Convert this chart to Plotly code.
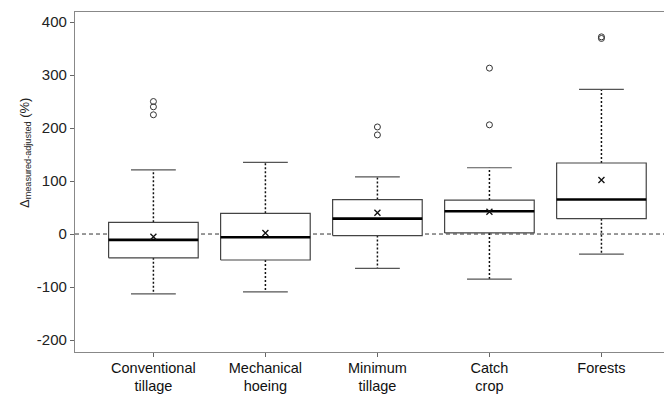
import plotly.graph_objects as go

categories = ["Conventional<br>tillage", "Mechanical<br>hoeing", "Minimum<br>tillage", "Catch<br>crop", "Forests"]
q1 = [-45, -49, -3, 2, 29]
median = [-11, -6, 29, 43, 65]
q3 = [22, 39, 65, 64, 134]
lower = [-113, -109, -65, -85, -38]
upper = [121, 135, 108, 125, 273]
mean = [-5, 2, 40, 42, 102]
outliers = [[250, 240, 225], [], [202, 187], [313, 206], [372, 369]]
y_ticks = [-200, -100, 0, 100, 200, 300, 400]
y_ticktext = ["-200", "-100", "0", "100", "200", "300", "400"]

BW = 0.4   # box half-width (category units)
CW = 0.2   # cap half-width

pos = list(range(len(categories)))

bx, by, mx, my, wx, wy, cx, cy = [], [], [], [], [], [], [], []
ox, oy = [], []
for i in pos:
    bx += [i - BW, i + BW, i + BW, i - BW, i - BW, None]
    by += [q1[i], q1[i], q3[i], q3[i], q1[i], None]
    mx += [i - BW, i + BW, None]
    my += [median[i], median[i], None]
    wx += [i, i, None, i, i, None]
    wy += [q3[i], upper[i], None, q1[i], lower[i], None]
    cx += [i - CW, i + CW, None, i - CW, i + CW, None]
    cy += [upper[i], upper[i], None, lower[i], lower[i], None]
    for v in outliers[i]:
        ox.append(i)
        oy.append(v)

XR = [-0.70, 4.63]

fig = go.Figure()
fig.add_trace(go.Scatter(x=XR, y=[0, 0], mode="lines",
                         line=dict(color="#333", width=1, dash="4px,3px"), hoverinfo="skip"))
fig.add_trace(go.Scatter(x=wx, y=wy, mode="lines",
                         line=dict(color="#111", width=1.5, dash="2px,2px"), hoverinfo="skip"))
fig.add_trace(go.Scatter(x=cx, y=cy, mode="lines",
                         line=dict(color="#555", width=1.2), hoverinfo="skip"))
fig.add_trace(go.Scatter(x=bx, y=by, mode="lines", fill="toself", fillcolor="white",
                         line=dict(color="#444", width=1.2), hoverinfo="skip"))
fig.add_trace(go.Scatter(x=mx, y=my, mode="lines",
                         line=dict(color="#000", width=2.6), hoverinfo="skip"))
fig.add_trace(go.Scatter(x=pos, y=mean, mode="markers",
                         marker=dict(symbol="x-thin", size=6, line=dict(color="#111", width=1.3))))
fig.add_trace(go.Scatter(x=ox, y=oy, mode="markers",
                         marker=dict(symbol="circle-open", size=6, color="#333", line=dict(width=1))))

fig.update_layout(
    width=664, height=389,
    margin=dict(l=67, r=0, t=4, b=45),
    plot_bgcolor="white", paper_bgcolor="white",
    showlegend=False,
    font=dict(family="Liberation Sans, Arial, sans-serif", size=13, color="#222"),
    xaxis=dict(range=XR, tickmode="array", tickvals=pos, ticktext=categories,
               showgrid=False, zeroline=False, showline=True, linecolor="#888", linewidth=1.2,
               mirror=True, ticks="outside", ticklen=4, tickcolor="#666",
               ticklabelstandoff=-2,
               tickfont=dict(size=14.5, color="#111")),
    yaxis=dict(range=[-222.6, 418.9], tickmode="array", tickvals=y_ticks, ticktext=y_ticktext,
               showgrid=False, zeroline=False, showline=True, linecolor="#888", linewidth=1.2,
               ticks="outside", ticklen=4, tickcolor="#666",
               tickfont=dict(size=15, color="#222")),
    annotations=[dict(
        text="Δ<sub>measured-adjusted</sub> (%)", textangle=-90,
        xref="paper", yref="paper", x=-0.084, y=0.585, xanchor="center", yanchor="middle",
        showarrow=False, font=dict(size=13, color="#222"))],
)

fig.write_html("out.html")
